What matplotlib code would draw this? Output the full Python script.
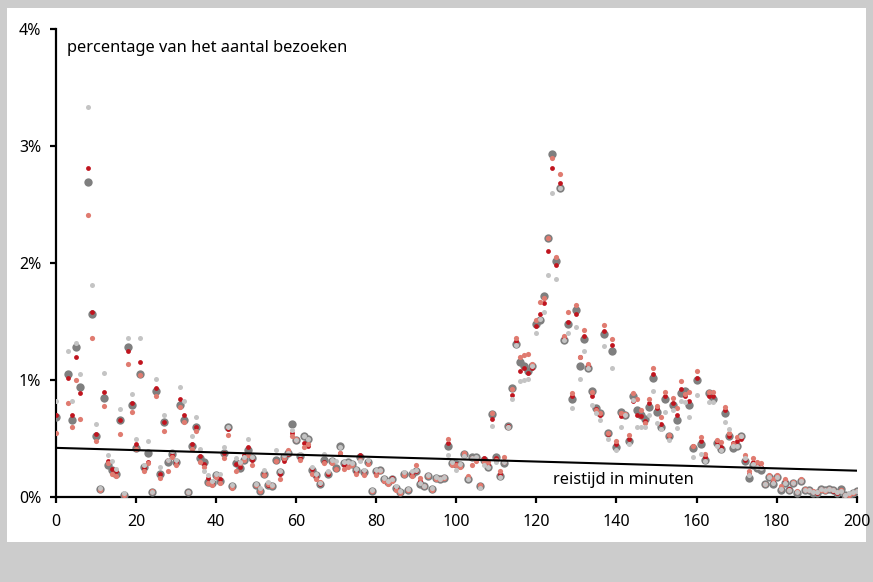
import matplotlib
matplotlib.use("Agg")
import matplotlib.pyplot as plt
from matplotlib.patches import Rectangle
from matplotlib.ticker import FuncFormatter
import numpy as np

plt.rcParams['font.family'] = ['Noto Sans', 'DejaVu Sans']

# reistijd in minuten (0..200), None = geen waarde
minutes = list(range(201))

# donkergrijs (grote stippen)
grey = [
    .68, None, None, 1.05, .66, 1.28, .94, None, 2.69, 1.56,
    .52, .07, .85, .27, .23, .20, .66, .02, 1.28, .79,
    .42, 1.05, .26, .38, .04, .91, .20, .64, .30, .37,
    .30, .79, .66, .04, .44, .60, .33, .30, .13, .12,
    .19, .14, .38, .60, .09, .29, .25, .32, .40, .33,
    .10, .05, .20, .10, .09, .32, .21, .34, .38, .62,
    .49, .35, .52, .50, .23, .19, .11, .32, .20, .31,
    .25, .44, .29, .30, .28, .23, .34, .21, .30, .05,
    .22, .23, .15, .13, .15, .08, .04, .20, .06, .20,
    .22, .11, .09, .18, .07, .16, .15, .16, .44, .29,
    .28, .27, .37, .15, .34, .34, .09, .32, .26, .71,
    .34, .18, .29, .61, .93, 1.31, 1.15, 1.12, 1.08, 1.12,
    1.48, 1.51, 1.72, 2.21, 2.93, 2.02, 2.64, 1.34, 1.48, .84,
    1.60, 1.12, 1.35, 1.10, .91, .76, .72, 1.39, .55, 1.25,
    .43, .73, .70, .48, .86, .74, .70, .67, .77, 1.02,
    .73, .60, .84, .52, .79, .66, .89, .91, .79, .42,
    1.00, .45, .32, .89, .84, .46, .41, .72, .52, .42,
    .44, .52, .31, .16, .27, .25, .23, .11, .17, .11,
    .17, .06, .12, .06, .12, .03, .14, .06, .06, .03,
    .03, .07, .06, .07, .06, .03, .07, .02, .02, .03,
    .05,
]

# donkerrood
red = [
    .70, None, None, 1.02, .70, 1.20, .89, None, 2.81, 1.58,
    .54, .07, .90, .31, .24, .22, .66, .02, 1.25, .80,
    .45, 1.15, .25, .30, .04, .93, .20, .64, .32, .36,
    .30, .84, .70, .04, .45, .60, .35, .28, .16, .11,
    .18, .15, .38, .58, .09, .28, .26, .36, .43, .32,
    .10, .05, .20, .10, .10, .31, .20, .31, .37, .55,
    .49, .33, .46, .44, .24, .18, .11, .30, .20, .30,
    .24, .38, .27, .29, .28, .22, .36, .22, .29, .05,
    .21, .23, .14, .12, .16, .08, .04, .20, .06, .20,
    .22, .14, .09, .19, .07, .16, .15, .17, .46, .28,
    .28, .27, .36, .16, .33, .33, .10, .33, .27, .67,
    .33, .20, .30, .61, .87, 1.33, 1.08, 1.10, 1.06, 1.10,
    1.46, 1.56, 1.66, 2.10, 2.81, 1.98, 2.68, 1.36, 1.50, .86,
    1.56, 1.20, 1.38, 1.12, .86, .75, .70, 1.42, .54, 1.30,
    .45, .69, .70, .50, .82, .70, .69, .65, .80, 1.05,
    .76, .62, .86, .52, .80, .70, .92, .86, .82, .44,
    1.02, .48, .34, .86, .86, .47, .43, .74, .52, .46,
    .48, .50, .32, .20, .30, .28, .26, .11, .18, .13,
    .18, .07, .13, .07, .12, .04, .14, .06, .06, .04,
    .03, .07, .06, .07, .05, .03, .06, .02, .02, .03,
    .05,
]

# zalmrood
salmon = [
    .55, None, None, .80, .60, 1.00, .67, None, 2.41, 1.36,
    .48, .06, .78, .29, .20, .18, .54, .02, 1.14, .73,
    .41, 1.04, .22, .29, .05, .86, .16, .56, .22, .34,
    .27, .77, .64, .04, .41, .56, .30, .26, .12, .10,
    .17, .12, .33, .53, .08, .22, .29, .32, .36, .27,
    .10, .05, .19, .11, .09, .31, .15, .33, .40, .52,
    .50, .32, .43, .45, .20, .15, .13, .29, .21, .29,
    .24, .38, .24, .26, .27, .20, .32, .19, .28, .05,
    .19, .22, .14, .11, .14, .06, .03, .19, .06, .18,
    .27, .16, .09, .18, .06, .15, .15, .16, .50, .27,
    .27, .26, .38, .18, .27, .31, .10, .30, .30, .72,
    .32, .22, .34, .60, .92, 1.36, 1.20, 1.21, 1.22, 1.14,
    1.51, 1.67, 1.70, 2.21, 2.90, 2.05, 2.76, 1.38, 1.58, .89,
    1.64, 1.20, 1.43, 1.14, .90, .74, .72, 1.47, .55, 1.35,
    .48, .72, .71, .53, .89, .84, .74, .63, .84, 1.10,
    .78, .68, .90, .53, .85, .76, .99, .88, .90, .44,
    1.08, .51, .37, .90, .90, .49, .47, .77, .55, .45,
    .51, .52, .36, .22, .33, .30, .29, .11, .19, .15,
    .19, .09, .15, .06, .13, .05, .15, .07, .06, .05,
    .04, .06, .05, .07, .06, .04, .06, .02, .02, .03,
    .05,
]

# lichtgrijs
lightgrey = [
    .82, None, None, 1.25, .82, 1.32, 1.05, None, 3.33, 1.81,
    .62, .08, 1.06, .36, .31, .24, .75, .03, 1.36, .88,
    .50, 1.36, .27, .48, .04, 1.01, .26, .70, .32, .39,
    .32, .94, .82, .04, .52, .68, .41, .22, .19, .14,
    .20, .20, .43, .60, .10, .33, .30, .34, .50, .34,
    .11, .08, .23, .13, .10, .40, .22, .36, .38, .57,
    .49, .37, .52, .50, .26, .20, .12, .37, .22, .32,
    .31, .43, .30, .30, .29, .24, .31, .23, .32, .06,
    .23, .23, .16, .14, .15, .09, .05, .21, .07, .22,
    .23, .12, .09, .19, .08, .17, .15, .17, .36, .30,
    .23, .28, .35, .15, .33, .34, .08, .27, .26, .61,
    .30, .17, .30, .60, .84, 1.30, .99, 1.00, 1.01, 1.12,
    1.40, 1.52, 1.58, 1.90, 2.60, 1.86, 2.64, 1.34, 1.40, .76,
    1.45, 1.01, 1.25, 1.10, .79, .72, .66, 1.29, .50, 1.10,
    .40, .60, .70, .45, .83, .60, .60, .60, .70, .91,
    .63, .58, .73, .49, .74, .59, .82, .81, .68, .34,
    .87, .37, .31, .81, .81, .44, .40, .64, .58, .44,
    .44, .52, .33, .19, .28, .26, .25, .11, .17, .12,
    .17, .07, .12, .06, .12, .04, .14, .06, .06, .04,
    .04, .07, .06, .07, .06, .04, .05, .02, .03, .04,
    .05,
]

# trendlijn
trend_x = [0, 200]
trend_y = [0.42, 0.225]

y_ticks = [0, 1, 2, 3, 4]
x_ticks = list(range(0, 201, 20))


def arr(values):
    return np.array([np.nan if v is None else v for v in values], dtype=float)


fig = plt.figure(figsize=(8.73, 5.82), dpi=100)
fig.patch.set_facecolor("#cccccc")
# wit paneel achter de grafiek
fig.patches.append(Rectangle((7 / 873, 1 - 542 / 582), 859 / 873, 534 / 582,
                             transform=fig.transFigure, facecolor="white",
                             edgecolor="none", zorder=-1))

ax = fig.add_axes([55.8 / 873, 1 - 497 / 582, 801 / 873, 468 / 582])
ax.set_facecolor("none")

x = np.array(minutes)
ax.scatter(x, arr(grey), s=36, color="#7f7f7f", linewidths=0, zorder=3)
ax.scatter(x, arr(red), s=12, color="#c0141e", linewidths=0, zorder=4)
ax.scatter(x, arr(salmon), s=14, color="#e07b70", linewidths=0, zorder=5)
ax.scatter(x, arr(lightgrey), s=13, color="#c4c4c4", linewidths=0, zorder=6)

ax.plot(trend_x, trend_y, color="black", linewidth=1.5, zorder=7)

ax.set_xlim(0, 200)
ax.set_ylim(0, 4)
ax.set_xticks(x_ticks)
ax.set_yticks(y_ticks)
ax.yaxis.set_major_formatter(FuncFormatter(lambda v, p: f"{v:.0f}%"))

for side in ("top", "right"):
    ax.spines[side].set_visible(False)
for side in ("left", "bottom"):
    ax.spines[side].set_linewidth(1.6)
ax.tick_params(axis="both", direction="out", length=4.5, width=1.6,
               labelsize=11.5, colors="black")
ax.tick_params(axis="y", pad=6)
ax.tick_params(axis="x", pad=8)

fig.text(67 / 873, 1 - 48 / 582, "percentage van het aantal bezoeken",
         fontsize=11.8, va="center", ha="left")
fig.text(553 / 873, 1 - 480 / 582, "reistijd in minuten", fontsize=11.8,
         va="center", ha="left")

fig.savefig("out.png", dpi=100, facecolor=fig.get_facecolor())
